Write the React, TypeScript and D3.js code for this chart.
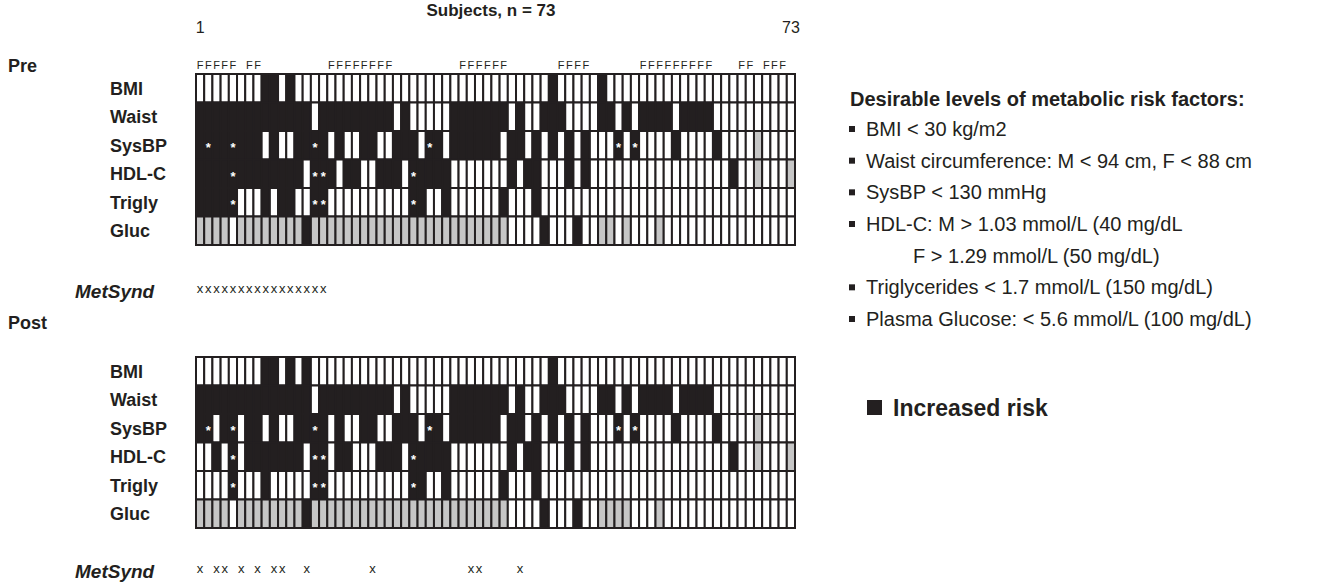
import { useEffect, useRef } from 'react';
import * as d3 from 'd3';

// one column per subject
const subjects = d3.range(1, 74);
const factors = ["BMI", "Waist", "SysBP", "HDL-C", "Trigly", "Gluc"];

// 0 = desirable, 1 = increased risk, * = increased risk (marked), g = not available
const preBMI = "0000000011 0100000000 0000000000 0000000000 0001000001 0000000000 0000000000 000";
const preWaist = "1111111111 1111011111 1111010000 0111111101 0011100001 1010111101 1110000000 000";
const preSysBP = "1*11*11101 0011*10100 11001110*1 0111111011 0101010100 0*0*000010 00010000g0 000";
const preHDL = "1111*11111 1110**1011 001110*111 1000000010 1100010100 0000000000 00000100g0 00g";
const preTrigly = "1111*00010 1100**0000 000000*100 1000000100 0100000000 0000000000 0000000000 000";
const preGluc = "gggg0ggggg ggg1gggggg gggggggggg gggggggg00 001000100g g0g000g000 0000000000 000";

const postBMI = "0000000011 0101000000 0000000000 0000000000 0001000000 0000000000 0000000000 000";
const postWaist = "1111111111 1111011111 1111010000 0111111101 0011100001 1010111101 1110000000 000";
const postSysBP = "1*01*01101 0011*10100 11001110*1 0111111011 0101010100 0*0*000010 00010000g0 000";
const postHDL = "0010*01111 1110**0110 001110*111 1000000010 1100010100 0000000000 00000100g0 00g";
const postTrigly = "0000*00010 0000**0000 000000*100 1000000100 0100000000 0000000000 0000000000 000";
const postGluc = "gggg0ggggg ggg1gggggg gggggggggg gggggggg00 001000100g ggg000g000 0000000000 000";

// subjects marked F (female)
const femaleCols = [0, 1, 2, 3, 4, 6, 7, 16, 17, 18, 19, 20, 21, 22, 23, 32, 33, 34, 35, 36, 37,
  44, 45, 46, 47, 54, 55, 56, 57, 58, 59, 60, 61, 62, 66, 67, 69, 70, 71];
// subjects meeting metabolic syndrome criteria
const preMetSynd = d3.range(0, 16);
const postMetSynd = [0, 2, 3, 5, 7, 9, 10, 13, 21, 33, 34, 39];

const criteria = [
  "BMI < 30 kg/m2",
  "Waist circumference: M < 94 cm, F < 88 cm",
  "SysBP < 130 mmHg",
  "HDL-C: M > 1.03 mmol/L (40 mg/dL",
  "F > 1.29 mmol/L (50 mg/dL)",
  "Triglycerides < 1.7 mmol/L (150 mg/dL)",
  "Plasma Glucose: < 5.6 mmol/L (100 mg/dL)",
];

const parse = (s: string) => s.replace(/ /g, "").split("");

const panels = [
  { name: "Pre", nameY: 72, top: 74, rows: [preBMI, preWaist, preSysBP, preHDL, preTrigly, preGluc], met: preMetSynd, metY: 293, labelY: 298 },
  { name: "Post", nameY: 329, top: 357, rows: [postBMI, postWaist, postSysBP, postHDL, postTrigly, postGluc], met: postMetSynd, metY: 573, labelY: 578 },
];

const DARK = "#231f20";
const GRAY = "#c6c6c6";
const FONT = "'Liberation Sans', Arial, Helvetica, sans-serif";

export default function App() {
  const svgRef = useRef<SVGSVGElement>(null);

  useEffect(() => {
    if (!svgRef.current) return;
    document.body.style.margin = "0";
    const svg = d3.select(svgRef.current);
    svg.selectAll("*").remove();
    svg.style("font-family", FONT);

    const x = d3.scaleBand<number>().domain(subjects).range([196, 795]).padding(0);
    const y = d3.scaleBand<string>().domain(factors).range([0, 171]).padding(0);
    const cx = (i: number) => x(subjects[i])! + x.bandwidth() / 2;

    // header
    svg.append("text")
      .attr("x", 491).attr("y", 16)
      .attr("text-anchor", "middle")
      .style("font-weight", "bold").style("font-size", "17px")
      .style("fill", DARK)
      .text("Subjects, n = 73");

    [0, subjects.length - 1].forEach(i => {
      svg.append("text")
        .attr("x", cx(i)).attr("y", 33)
        .attr("text-anchor", "middle")
        .style("font-size", "16px").style("fill", DARK)
        .text(subjects[i]);
    });

    // F markers
    svg.selectAll(".fem")
      .data(femaleCols)
      .enter().append("text")
      .attr("class", "fem")
      .attr("x", d => cx(d)).attr("y", 69)
      .attr("text-anchor", "middle")
      .style("font-size", "11px").style("fill", DARK)
      .text("F");

    panels.forEach(p => {
      const g = svg.append("g").attr("transform", `translate(0,${p.top})`);

      svg.append("text")
        .attr("x", 8).attr("y", p.nameY)
        .style("font-weight", "bold").style("font-size", "18px").style("fill", DARK)
        .text(p.name);

      factors.forEach((f, r) => {
        const codes = parse(p.rows[r]);
        g.append("text")
          .attr("x", 110)
          .attr("y", y(f)! + y.bandwidth() / 2)
          .attr("dy", "0.36em")
          .style("font-weight", "bold").style("font-size", "18px").style("fill", DARK)
          .text(f);

        g.selectAll(`.c${r}`)
          .data(codes)
          .enter().append("rect")
          .attr("class", `c${r}`)
          .attr("x", (_, i) => x(subjects[i])!)
          .attr("y", y(f)!)
          .attr("width", x.bandwidth())
          .attr("height", y.bandwidth())
          .style("fill", d => d === "0" ? "#fff" : d === "g" ? GRAY : DARK)
          .style("stroke", DARK)
          .style("stroke-width", 2);

        codes.forEach((d, i) => {
          if (d !== "*") return;
          g.append("text")
            .attr("x", cx(i))
            .attr("y", y(f)! + y.bandwidth() / 2 + 7)
            .attr("text-anchor", "middle")
            .style("font-size", "13px").style("font-weight", "bold").style("fill", "#fff")
            .text("*");
        });
      });

      // MetSynd
      svg.append("text")
        .attr("x", 75).attr("y", p.labelY)
        .style("font-weight", "bold").style("font-style", "italic")
        .style("font-size", "19px").style("fill", DARK)
        .text("MetSynd");

      svg.selectAll(`.met${p.name}`)
        .data(p.met)
        .enter().append("text")
        .attr("class", `met${p.name}`)
        .attr("x", d => cx(d)).attr("y", p.metY)
        .attr("text-anchor", "middle")
        .style("font-size", "13px").style("fill", DARK)
        .text("x");
    });

    // criteria panel
    svg.append("text")
      .attr("x", 850).attr("y", 106)
      .style("font-weight", "bold").style("font-size", "20px").style("fill", DARK)
      .text("Desirable levels of metabolic risk factors:");

    const itemY = d3.scalePoint<number>().domain(d3.range(criteria.length)).range([136, 326]);
    criteria.forEach((c, i) => {
      const indent = i === 4;
      if (!indent) {
        svg.append("rect")
          .attr("x", 849).attr("y", itemY(i)! - 10)
          .attr("width", 6).attr("height", 6)
          .style("fill", DARK);
      }
      svg.append("text")
        .attr("x", indent ? 913 : 866).attr("y", itemY(i)!)
        .style("font-size", "20px").style("fill", DARK)
        .text(c);
    });

    svg.append("rect")
      .attr("x", 867).attr("y", 400)
      .attr("width", 15).attr("height", 15)
      .style("fill", DARK);
    svg.append("text")
      .attr("x", 893).attr("y", 416)
      .style("font-weight", "bold").style("font-size", "23px").style("fill", DARK)
      .text("Increased risk");
  }, []);

  return <svg ref={svgRef} width={1344} height={582} style={{ display: "block" }} />;
}
